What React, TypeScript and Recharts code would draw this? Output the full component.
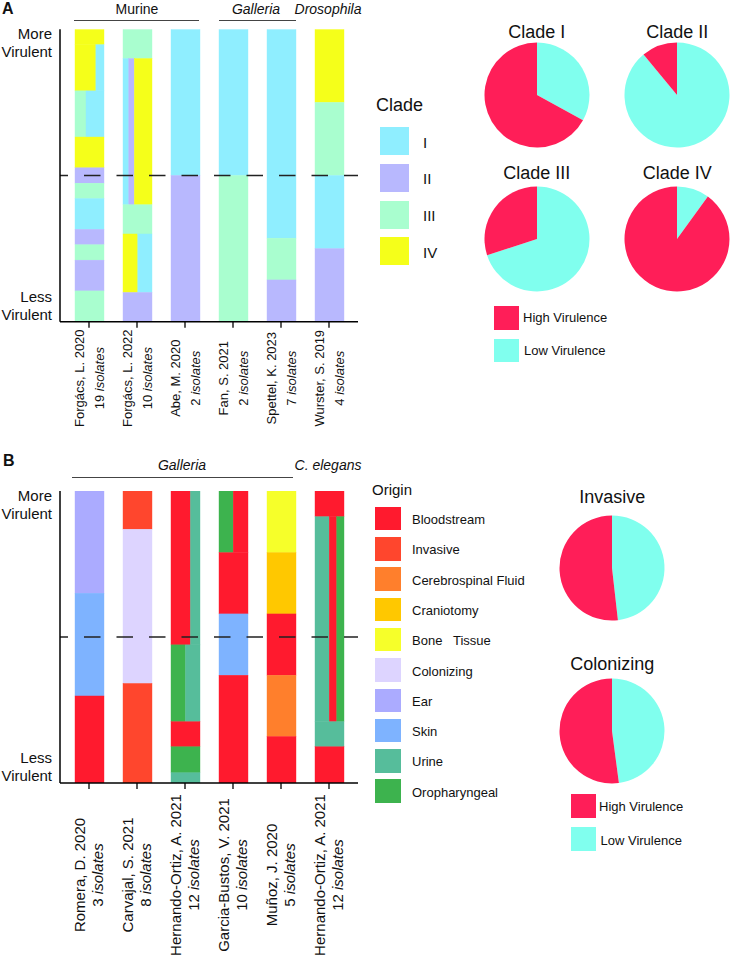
import React from 'react';
import { BarChart, Bar, XAxis, YAxis, ReferenceLine, PieChart, Pie, Cell } from 'recharts';

const FONT = "Arial, 'Liberation Sans', Helvetica, sans-serif";

// ---- Panel A: clade of isolates ranked by virulence (top = most virulent)
const CLADES = ['I', 'II', 'III', 'IV'];
const CLADE_COLORS = ['#8FEEFF', '#B8B8FE', '#A9FECF', '#F5FF1A'];

const STUDIES_A = ['Forgács, L. 2020', 'Forgács, L. 2022', 'Abe, M. 2020', 'Fan, S. 2021', 'Spettel, K. 2023', 'Wurster, S. 2019'];
const ISOLATES_A = [19, 10, 2, 2, 7, 4];

// each group: isolates in the rank group, and how the group splits by clade
type Group = { span: number; mix: [string, number][] };

const FORGACS_2020: Group[] = [
  { span: 1, mix: [['IV', 1]] },
  { span: 3, mix: [['IV', 0.72], ['I', 0.28]] },
  { span: 3, mix: [['III', 0.38], ['I', 0.62]] },
  { span: 2, mix: [['IV', 1]] },
  { span: 1, mix: [['II', 1]] },
  { span: 1, mix: [['III', 1]] },
  { span: 2, mix: [['I', 1]] },
  { span: 1, mix: [['II', 1]] },
  { span: 1, mix: [['III', 1]] },
  { span: 2, mix: [['II', 1]] },
  { span: 2, mix: [['III', 1]] },
];
const FORGACS_2022: Group[] = [
  { span: 1, mix: [['III', 1]] },
  { span: 5, mix: [['I', 0.2], ['II', 0.19], ['IV', 0.61]] },
  { span: 1, mix: [['III', 1]] },
  { span: 2, mix: [['IV', 0.51], ['I', 0.49]] },
  { span: 1, mix: [['II', 1]] },
];
const ABE_2020: Group[] = [
  { span: 1, mix: [['I', 1]] },
  { span: 1, mix: [['II', 1]] },
];
const FAN_2021: Group[] = [
  { span: 1, mix: [['I', 1]] },
  { span: 1, mix: [['III', 1]] },
];
const SPETTEL_2023: Group[] = [
  { span: 5, mix: [['I', 1]] },
  { span: 1, mix: [['III', 1]] },
  { span: 1, mix: [['II', 1]] },
];
const WURSTER_2019: Group[] = [
  { span: 1, mix: [['IV', 1]] },
  { span: 1, mix: [['III', 1]] },
  { span: 1, mix: [['I', 1]] },
  { span: 1, mix: [['II', 1]] },
];
const GROUPS_A = [FORGACS_2020, FORGACS_2022, ABE_2020, FAN_2021, SPETTEL_2023, WURSTER_2019];

// ---- Panel B: isolate origin ranked by virulence (spans in % of rank)
const ORIGINS = ['Bloodstream', 'Invasive', 'Cerebrospinal Fluid', 'Craniotomy', 'Bone   Tissue', 'Colonizing', 'Ear', 'Skin', 'Urine', 'Oropharyngeal'];
const ORIGIN_COLORS = ['#FF1A2E', '#FF462D', '#FF7F2C', '#FFC800', '#F6FF2A', '#DDD4FF', '#ABABFF', '#7EB3FF', '#56BD9B', '#3DB34E'];

const STUDIES_B = ['Romera, D. 2020', 'Carvajal, S. 2021', 'Hernando-Ortiz, A. 2021', 'Garcia-Bustos, V. 2021', 'Muñoz, J. 2020', 'Hernando-Ortiz, A. 2021'];
const ISOLATES_B = [3, 8, 12, 10, 5, 12];

const ROMERA_2020: Group[] = [
  { span: 35, mix: [['Ear', 1]] },
  { span: 35.2, mix: [['Skin', 1]] },
  { span: 29.8, mix: [['Bloodstream', 1]] },
];
const CARVAJAL_2021: Group[] = [
  { span: 13.1, mix: [['Invasive', 1]] },
  { span: 52.8, mix: [['Colonizing', 1]] },
  { span: 34.1, mix: [['Invasive', 1]] },
];
const HERNANDO_2021_G: Group[] = [
  { span: 52.7, mix: [['Bloodstream', 0.67], ['Urine', 0.33]] },
  { span: 26.3, mix: [['Oropharyngeal', 0.5], ['Urine', 0.5]] },
  { span: 8.6, mix: [['Bloodstream', 1]] },
  { span: 8.9, mix: [['Oropharyngeal', 1]] },
  { span: 3.5, mix: [['Urine', 1]] },
];
const GARCIA_2021: Group[] = [
  { span: 21.1, mix: [['Oropharyngeal', 0.49], ['Bloodstream', 0.51]] },
  { span: 21, mix: [['Bloodstream', 1]] },
  { span: 21, mix: [['Skin', 1]] },
  { span: 36.9, mix: [['Bloodstream', 1]] },
];
const MUNOZ_2020: Group[] = [
  { span: 21.1, mix: [['Bone   Tissue', 1]] },
  { span: 21, mix: [['Craniotomy', 1]] },
  { span: 21, mix: [['Bloodstream', 1]] },
  { span: 21, mix: [['Cerebrospinal Fluid', 1]] },
  { span: 15.9, mix: [['Bloodstream', 1]] },
];
const HERNANDO_2021_C: Group[] = [
  { span: 8.8, mix: [['Bloodstream', 1]] },
  { span: 70.2, mix: [['Urine', 0.49], ['Bloodstream', 0.26], ['Oropharyngeal', 0.25]] },
  { span: 8.6, mix: [['Urine', 1]] },
  { span: 12.4, mix: [['Bloodstream', 1]] },
];
const GROUPS_B = [ROMERA_2020, CARVAJAL_2021, HERNANDO_2021_G, GARCIA_2021, MUNOZ_2020, HERNANDO_2021_C];

// ---- Pies: share of high / low virulence
const PIE_CLADE_TITLES = ['Clade I', 'Clade II', 'Clade III', 'Clade IV'];
const PIE_CLADE_HIGH = [67, 11, 30, 90];
const PIE_CLADE_LOW = [33, 89, 70, 10];
const PIE_ORIGIN_TITLES = ['Invasive', 'Colonizing'];
const PIE_ORIGIN_HIGH = [51.8, 52.1];
const PIE_ORIGIN_LOW = [48.2, 47.9];

const HIGH_COLOR = '#FF1E58';
const LOW_COLOR = '#80FFEE';

function buildRows(names: string[], groups: Group[][]) {
  return names.map((name, i) => {
    const total = groups[i].reduce((s, g) => s + g.span, 0);
    const row: Record<string, any> = { name, mixes: groups[i].map((g) => g.mix) };
    groups[i].forEach((g, k) => { row[`s${k}`] = g.span / total; });
    return row;
  });
}

function colorMap(keys: string[], colors: string[]) {
  const m: Record<string, string> = {};
  keys.forEach((k, i) => { m[k] = colors[i]; });
  return m;
}

// stacked segment that splits into side-by-side columns when the rank group is mixed
function mixShape(k: number, colors: Record<string, string>) {
  return (props: any) => {
    const { x, y, width, height, payload } = props;
    const mix = payload?.mixes?.[k];
    if (!mix || !height) return <g />;
    const top = height < 0 ? y + height : y;
    const h = Math.abs(height);
    let left = x;
    return (
      <g>
        {mix.map(([c, share]: [string, number], i: number) => {
          const w = width * share;
          const r = <rect key={i} x={left} y={top} width={w} height={h} fill={colors[c]} stroke={colors[c]} strokeWidth={0.4} />;
          left += w;
          return r;
        })}
      </g>
    );
  };
}

function VirulenceTick(props: any) {
  const { x, y, payload } = props;
  const top = payload.value === 0;
  const ys = top ? [y + 10, y + 27.5] : [y - 20, y - 1.8];
  return (
    <g fontFamily={FONT} fontSize={15} fill="#111" textAnchor="end">
      <text x={x} y={ys[0]}>{top ? 'More' : 'Less'}</text>
      <text x={x} y={ys[1]}>Virulent</text>
    </g>
  );
}

function StudyTick(props: any) {
  const { x, y, payload, index, isolates, fontSize, offset, b1, b2 } = props;
  return (
    <g transform={`translate(${x},${y + offset}) rotate(-90)`} fontFamily={FONT} fontSize={fontSize} fill="#111">
      <text x={0} y={b1} textAnchor="middle">{payload.value}</text>
      <text x={0} y={b2} textAnchor="middle">
        {isolates[index]}{' '}<tspan fontStyle="italic">isolates</tspan>
      </text>
    </g>
  );
}

function RankChart({ rows, nSeg, colors, isolates, height, bottom, top, tickFont, tickOffset, b1, b2 }: any) {
  return (
    <BarChart width={365} height={height} data={rows} margin={{ top, right: 7, left: 0, bottom }}>
      <XAxis
        dataKey="name"
        interval={0}
        height={30}
        padding={{ left: 5, right: 5 }}
        axisLine={{ stroke: '#000', strokeWidth: 1.5 }}
        tickLine={{ stroke: '#000', strokeWidth: 1.3 }}
        tick={<StudyTick isolates={isolates} fontSize={tickFont} offset={tickOffset} b1={b1} b2={b2} />}
      />
      <YAxis
        type="number"
        domain={[0, 1]}
        ticks={[0, 1]}
        reversed
        allowDataOverflow
        width={60}
        axisLine={{ stroke: '#000', strokeWidth: 1.5 }}
        tickLine={false}
        tick={<VirulenceTick />}
      />
      {Array.from({ length: nSeg }, (_, k) => (
        <Bar key={k} dataKey={`s${k}`} stackId="rank" barSize={29} shape={mixShape(k, colors)} isAnimationActive={false} />
      ))}
      <ReferenceLine y={0.5} stroke="#222" strokeWidth={1.3} strokeDasharray="16.5 16" strokeDashoffset={8.5} />
    </BarChart>
  );
}

function Txt({ x, y, children, size = 13, anchor = 'left', italic = false, bold = false }: any) {
  return (
    <div
      style={{
        position: 'absolute',
        left: x,
        top: y,
        transform: `translate(${anchor === 'center' ? '-50%' : '0'}, -50%)`,
        fontSize: size,
        lineHeight: 1,
        whiteSpace: 'pre',
        fontStyle: italic ? 'italic' : 'normal',
        fontWeight: bold ? 700 : 400,
        color: '#111',
      }}
    >
      {children}
    </div>
  );
}

function Box({ x, y, w, h, color }: any) {
  return <div style={{ position: 'absolute', left: x, top: y, width: w, height: h, background: color }} />;
}

function VirulencePie({ title, high, low, cx, cy, titleY }: any) {
  const data = [
    { name: 'Low Virulence', value: low },
    { name: 'High Virulence', value: high },
  ];
  return (
    <>
      <Txt x={cx} y={titleY} size={18} anchor="center">{title}</Txt>
      <div style={{ position: 'absolute', left: cx - 56, top: cy - 56 }}>
        <PieChart width={112} height={112} margin={{ top: 0, right: 0, bottom: 0, left: 0 }}>
          <Pie data={data} dataKey="value" cx={56} cy={56} outerRadius={52.5} startAngle={90} endAngle={-270} stroke="none" isAnimationActive={false}>
            <Cell fill={LOW_COLOR} />
            <Cell fill={HIGH_COLOR} />
          </Pie>
        </PieChart>
      </div>
    </>
  );
}

export default function App() {
  const rowsA = buildRows(STUDIES_A, GROUPS_A);
  const rowsB = buildRows(STUDIES_B, GROUPS_B);
  const segA = Math.max(...GROUPS_A.map((g) => g.length));
  const segB = Math.max(...GROUPS_B.map((g) => g.length));
  const cladeColors = colorMap(CLADES, CLADE_COLORS);
  const originColors = colorMap(ORIGINS, ORIGIN_COLORS);
  const pieCentersA = [[536.7, 94.5, 32], [677.3, 94.5, 32], [536.7, 238.5, 172.7], [677.3, 238.5, 172.7]];
  const pieCentersB = [[612.3, 568.3, 496.7], [612.3, 730.7, 664]];

  return (
    <div style={{ position: 'absolute', left: 0, top: 0, width: 732, height: 959, background: '#fff', fontFamily: FONT, overflow: 'hidden' }}>
      {/* Panel A */}
      <Txt x={2} y={8.5} size={16} bold>A</Txt>
      <Txt x={137} y={9} size={14} anchor="center">Murine</Txt>
      <Txt x={256} y={9} size={14} anchor="center" italic>Galleria</Txt>
      <Txt x={328} y={9} size={14} anchor="center" italic>Drosophila</Txt>
      <Box x={74} y={20} w={125} h={1.4} color="#444" />
      <Box x={219} y={20} w={77} h={1.4} color="#444" />
      <div style={{ position: 'absolute', left: 0, top: 0 }}>
        <RankChart rows={rowsA} nSeg={segA} colors={cladeColors} isolates={ISOLATES_A} height={440} top={29.3} bottom={88.3} tickFont={13} tickOffset={48.5} b1={-5} b2={15} />
      </div>

      <Txt x={376} y={105} size={18}>Clade</Txt>
      {CLADES.map((c, i) => (
        <React.Fragment key={c}>
          <Box x={380} y={127 + i * 36.8} w={29} h={28} color={CLADE_COLORS[i]} />
          <Txt x={423} y={141.5 + i * 36.8} size={15}>{c}</Txt>
        </React.Fragment>
      ))}

      {PIE_CLADE_TITLES.map((t, i) => (
        <VirulencePie key={t} title={t} high={PIE_CLADE_HIGH[i]} low={PIE_CLADE_LOW[i]} cx={pieCentersA[i][0]} cy={pieCentersA[i][1]} titleY={pieCentersA[i][2]} />
      ))}
      <Box x={494} y={306} w={25} h={23.5} color={HIGH_COLOR} />
      <Txt x={523} y={317} size={13}>High Virulence</Txt>
      <Box x={494} y={338.5} w={25} h={23.5} color={LOW_COLOR} />
      <Txt x={524} y={350} size={13}>Low Virulence</Txt>

      {/* Panel B */}
      <Txt x={3} y={461} size={16} bold>B</Txt>
      <Txt x={182} y={465} size={14} anchor="center" italic>Galleria</Txt>
      <Txt x={328} y={465} size={14} anchor="center" italic>C. elegans</Txt>
      <Box x={72} y={477} w={221} h={1.4} color="#444" />
      <div style={{ position: 'absolute', left: 0, top: 440 }}>
        <RankChart rows={rowsB} nSeg={segB} colors={originColors} isolates={ISOLATES_B} height={519} top={51} bottom={146} tickFont={15} tickOffset={84} b1={-4} b2={14} />
      </div>

      <Txt x={372} y={489} size={15}>Origin</Txt>
      {ORIGINS.map((o, i) => (
        <React.Fragment key={o}>
          <Box x={375} y={506.7 + i * 30.3} w={25.5} h={23.5} color={ORIGIN_COLORS[i]} />
          <Txt x={412} y={519 + i * 30.3} size={13}>{o}</Txt>
        </React.Fragment>
      ))}

      {PIE_ORIGIN_TITLES.map((t, i) => (
        <VirulencePie key={t} title={t} high={PIE_ORIGIN_HIGH[i]} low={PIE_ORIGIN_LOW[i]} cx={pieCentersB[i][0]} cy={pieCentersB[i][1]} titleY={pieCentersB[i][2]} />
      ))}
      <Box x={571} y={794} w={25} h={24} color={HIGH_COLOR} />
      <Txt x={599} y={806} size={13}>High Virulence</Txt>
      <Box x={571} y={827} w={25} h={23.5} color={LOW_COLOR} />
      <Txt x={600.5} y={839.5} size={13}>Low Virulence</Txt>
    </div>
  );
}
